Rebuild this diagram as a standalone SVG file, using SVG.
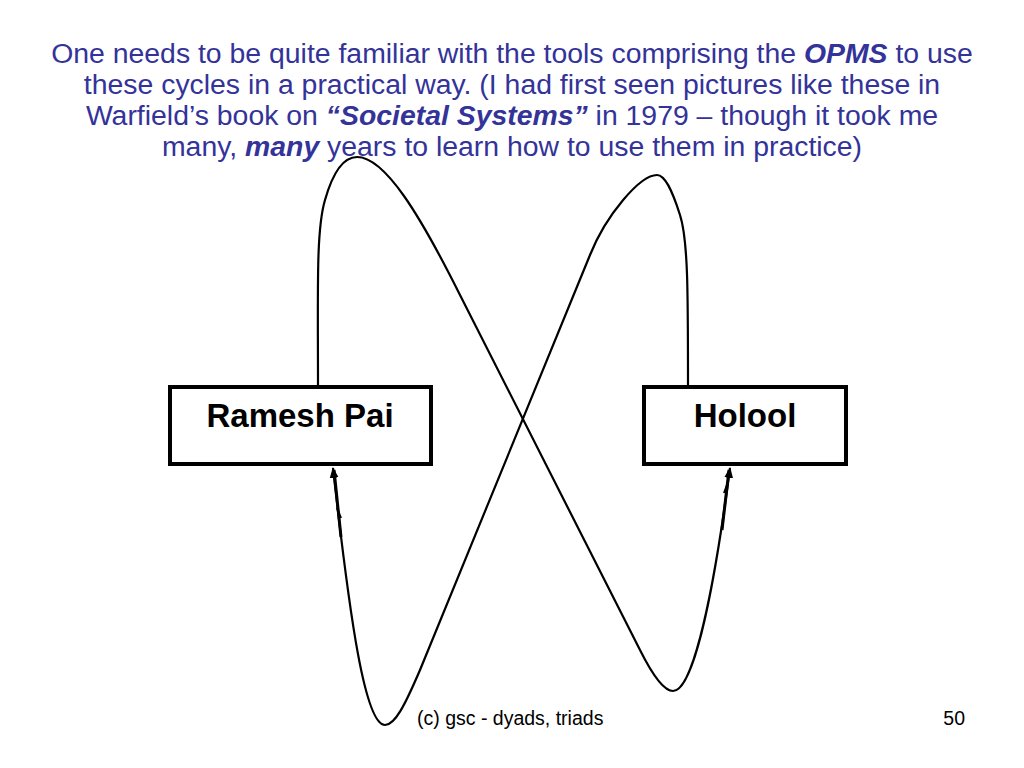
<svg xmlns="http://www.w3.org/2000/svg" width="1024" height="768" viewBox="0 0 1024 768">
<style>
.title{font-family:"Liberation Sans",Arial,sans-serif;font-size:28.4px;fill:#333399;text-anchor:middle}
.bi{font-weight:bold;font-style:italic}
.box{fill:#fff;stroke:#000;stroke-width:4}
.lbl{font-family:"Liberation Sans",Arial,sans-serif;font-size:33px;font-weight:bold;text-anchor:middle;fill:#000}
.edge{fill:none;stroke:#000;stroke-width:2.2}
.foot{font-family:"Liberation Sans",Arial,sans-serif;font-size:19.5px;fill:#000}
</style>
<defs>
<marker id="arr" viewBox="0 0 10 10" refX="9" refY="5" markerWidth="5" markerHeight="5" orient="auto" markerUnits="strokeWidth">
<path d="M0,1 L10,5 L0,9 Z" fill="#000"/>
</marker>
</defs>
<rect width="1024" height="768" fill="#fff"/>
<g id="title">
<text class="title" x="512" y="63">One needs to be quite familiar with the tools comprising the <tspan class="bi">OPMS</tspan> to use</text>
<text class="title" x="512" y="94">these cycles in a practical way. (I had first seen pictures like these in</text>
<text class="title" x="512" y="125">Warfield’s book on <tspan class="bi">“Societal Systems”</tspan> in 1979 – though it took me</text>
<text class="title" x="512" y="156">many, <tspan class="bi">many</tspan> years to learn how to use them in practice)</text>
</g>
<g id="connectors">
<path class="edge" d="M318,387 C318,290 316,230 325,200 C333,172 343,157 357,157 C385,157 420,215 460,295 L640,650 C655,680 665,691 673,691 C690,691 710,620 730,468" marker-end="url(#arr)"/>
<path class="edge" d="M688,387 C688,290 688,240 680,215 C672,190 665,175 657,175 C640,175 606,215 590,255 L420,670 C405,705 395,725 385,725 C365,725 350,620 333,468" marker-end="url(#arr)"/>
<path d="M341,537 L334,470" stroke="#000" stroke-width="3" fill="none"/>
<path d="M337,508 L341,518" stroke="#000" stroke-width="2" fill="none"/>
<path d="M722,530 L729,470" stroke="#000" stroke-width="3" fill="none"/>
<path d="M724,493 L728,482" stroke="#000" stroke-width="2" fill="none"/>
</g>
<g id="ramesh">
<rect class="box" x="170" y="387" width="261" height="77"/>
<text class="lbl" x="300" y="427">Ramesh Pai</text>
</g>
<g id="holool">
<rect class="box" x="644" y="387" width="202" height="77"/>
<text class="lbl" x="745" y="427">Holool</text>
</g>
<g id="footer">
<text class="foot" x="417" y="725">(c) gsc - dyads, triads</text>
<text class="foot" x="965" y="725" text-anchor="end">50</text>
</g>
</svg>
